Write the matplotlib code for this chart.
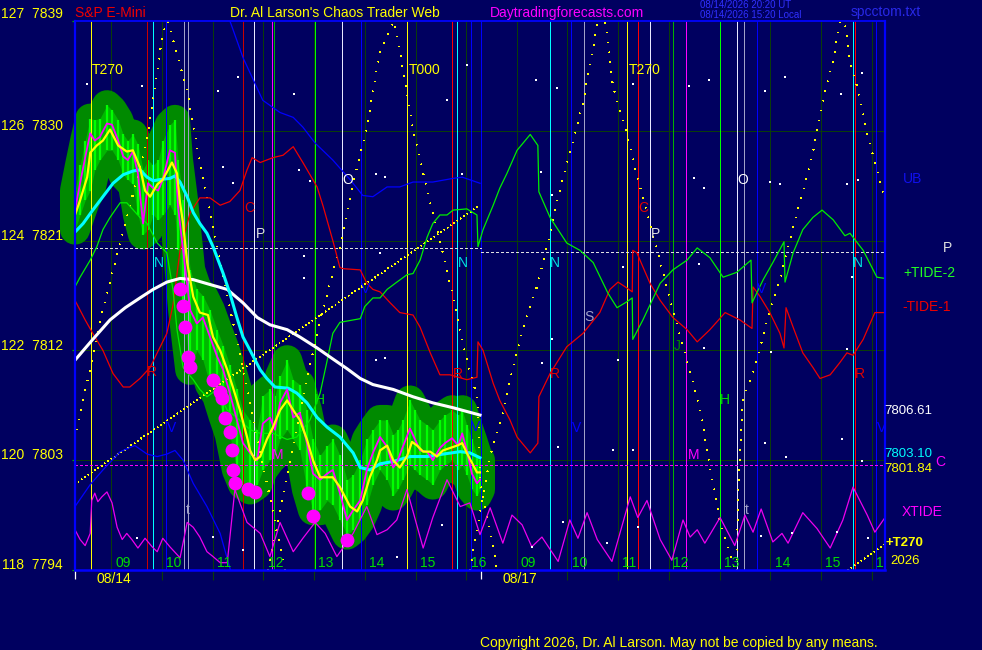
import matplotlib
matplotlib.use("Agg")
import matplotlib.pyplot as plt
import matplotlib.transforms as mtransforms
from matplotlib.patches import Polygon

plt.rcParams['font.family'] = ['Liberation Sans', 'DejaVu Sans']

# ---------------- axis / label data ----------------
y_ticks = [7794, 7803, 7812, 7821, 7830, 7839]
y_tick_labels = ['118  7794', '120  7803', '122  7812', '124  7821', '126  7830', '127  7839']
hour_labels = ['09', '10', '11', '12', '13', '14', '15', '16']
day_labels = ['08/14', '08/17']
day_start_t = [0.0, 7.99]
first_hour_t = 0.713          # 09:00 measured from session start, hours
session_len = 15.96

# ---------------- price bars (day 1) ----------------
price_t = [0.00,0.10,0.20,0.30,0.39,0.49,0.63,0.73,0.85,0.95,
           1.04,1.14,1.24,1.34,1.44,1.54,1.64,1.73,1.87,1.97,
           2.03,2.13,2.27,2.40,2.52,2.66,2.80,2.92,3.05,3.19,
           3.31,3.45,3.59,3.70,3.84,3.94,4.04,4.18,4.30,4.43,
           4.57,4.69,4.83,4.97,5.08,5.22,5.36,5.48,5.62,5.75,
           5.87,6.01,6.15,6.27,6.36,6.46,6.60,6.70,6.80,6.94,
           7.05,7.19,7.29,7.43,7.55,7.63,7.72,7.82,7.92,7.98]
close = [7823.5,7825.7,7827.8,7829.8,7829.2,7829.5,7830.6,7830.5,7829.2,7827.9,
         7827.6,7828.3,7826.5,7822.4,7825.7,7825.3,7825.1,7826.0,7828.4,7828.2,
         7823.8,7820.2,7815.3,7814.2,7814.7,7813.1,7811.5,7810.4,7808.5,7806.3,
         7804.4,7803.6,7803.0,7806.0,7806.5,7805.5,7807.7,7808.8,7806.5,7806.9,
         7804.4,7801.9,7801.4,7801.9,7802.2,7800.3,7798.1,7798.9,7799.7,7802.2,
         7803.6,7804.9,7804.1,7802.4,7803.0,7804.1,7805.6,7804.7,7803.8,7803.7,
         7803.0,7804.0,7804.4,7804.8,7804.2,7805.2,7803.8,7801.9,7801.1,7801.4]
high = [7825.1,7827.2,7829.2,7831.0,7830.9,7831.0,7832.1,7831.7,7830.9,7829.7,
        7829.2,7829.7,7828.9,7826.8,7827.6,7827.2,7827.6,7829.2,7830.5,7830.9,
        7827.6,7824.3,7818.6,7817.0,7816.5,7815.3,7813.7,7812.4,7810.8,7808.8,
        7807.1,7806.3,7805.5,7808.3,7808.8,7808.3,7809.9,7811.2,7809.6,7809.2,
        7807.1,7804.7,7803.4,7804.2,7804.7,7803.4,7801.4,7801.8,7803.0,7804.7,
        7805.5,7806.3,7806.3,7805.1,7805.5,7806.3,7807.9,7807.1,7806.3,7805.9,
        7805.5,7806.3,7806.7,7807.1,7806.7,7807.1,7805.9,7804.7,7803.4,7803.0]
low = [7821.9,7823.1,7824.3,7825.1,7826.8,7827.6,7828.4,7828.4,7827.6,7826.4,
       7826.0,7825.6,7823.1,7821.5,7821.9,7823.1,7822.7,7823.1,7823.9,7823.1,
       7820.2,7815.3,7810.4,7812.0,7811.2,7809.2,7808.3,7806.7,7805.1,7802.2,
       7801.0,7800.6,7801.0,7802.2,7803.0,7803.4,7804.7,7805.5,7804.7,7803.8,
       7800.6,7798.9,7798.9,7799.7,7799.3,7798.1,7796.9,7797.3,7798.1,7799.3,
       7801.0,7802.2,7801.4,7800.1,7800.6,7801.4,7802.6,7802.2,7801.8,7801.4,
       7801.0,7802.2,7802.6,7803.0,7802.2,7802.6,7801.8,7800.6,7800.1,7800.6]

dots_t = [2.07,2.13,2.17,2.23,2.27,2.72,2.86,2.90,2.96,3.05,3.09,3.11,3.15,3.41,3.55,4.59,4.69,5.36]
dots_p = [7817.0,7815.6,7813.9,7811.5,7810.6,7809.6,7808.6,7808.1,7806.5,7805.3,
          7803.8,7802.2,7801.1,7800.6,7800.4,7800.3,7798.4,7796.5]

# ---------------- moving averages ----------------
yel_t = [0.00,0.10,0.24,0.30,0.43,0.55,0.69,0.85,1.02,1.14,
         1.28,1.38,1.48,1.62,1.73,1.91,2.01,2.07,2.13,2.21,
         2.33,2.46,2.62,2.72,2.86,3.00,3.11,3.25,3.39,3.45,
         3.55,3.65,3.78,3.90,4.04,4.18,4.30,4.43,4.57,4.69,
         4.83,5.08,5.22,5.42,5.56,5.67,5.81,5.95,6.01,6.15,
         6.27,6.40,6.54,6.64,6.74,6.86,7.00,7.13,7.25,7.39,
         7.53,7.63,7.72,7.82,7.92,7.98]
yel = [7823.1,7824.3,7826.2,7828.2,7828.8,7829.2,7830.1,7828.8,7828.3,7828.4,
       7827.0,7825.1,7824.6,7825.6,7826.0,7827.4,7826.5,7824.1,7822.4,7819.2,
       7816.4,7815.1,7814.9,7813.1,7812.0,7810.4,7809.0,7807.1,7804.9,7803.8,
       7803.0,7803.3,7804.7,7805.7,7807.1,7807.9,7807.1,7806.3,7804.7,7803.0,
       7801.6,7801.6,7800.8,7799.2,7798.8,7799.7,7801.6,7803.0,7803.8,7804.2,
       7803.0,7802.4,7803.3,7804.5,7804.2,7803.7,7803.7,7803.3,7803.8,7804.0,
       7804.2,7804.4,7803.6,7802.8,7802.0,7802.0]

cyan_t = [0.00,0.16,0.35,0.55,0.75,0.95,1.14,1.28,1.42,1.54,
          1.67,1.87,1.97,2.07,2.21,2.33,2.46,2.60,2.72,2.92,
          3.05,3.19,3.31,3.45,3.65,3.78,3.94,4.20,4.37,4.57,
          4.77,4.97,5.22,5.48,5.62,5.81,6.01,6.27,6.60,6.94,
          7.25,7.59,7.78,7.98]
cyan = [7821.7,7822.4,7823.5,7824.6,7825.7,7826.4,7826.7,7826.8,7826.2,7825.9,
        7826.0,7826.1,7826.3,7825.8,7824.6,7823.3,7822.4,7821.6,7820.5,7818.3,
        7816.7,7814.7,7813.1,7812.0,7810.4,7809.7,7809.0,7808.9,7808.5,7807.7,
        7806.5,7805.7,7804.9,7803.6,7802.4,7802.2,7802.7,7802.9,7803.3,7803.3,
        7803.5,7803.7,7803.6,7803.2]

white_t = [0.00,0.35,0.69,0.99,1.28,1.54,1.81,2.07,2.33,2.66,3.00,3.31,3.59,
           3.84,4.18,4.43,4.77,5.08,5.36,5.62,5.87,6.27,6.66,7.05,7.45,7.98]
white = [7811.2,7812.9,7814.5,7815.5,7816.3,7817.0,7817.6,7817.9,7817.8,7817.4,7817.0,7815.9,7814.7,
         7814.1,7813.7,7813.1,7812.2,7811.3,7810.5,7809.7,7809.2,7808.8,7808.2,7807.7,7807.3,7806.7]

# ---------------- UB (blue), wraps from bottom to top ----------------
blueA_t = [0.00,0.30,0.55,0.89,1.18,1.42,1.62,1.81,1.97,2.13,2.33,2.60,2.86,3.05,3.09]
blueA = [7799.2,7801.0,7802.2,7803.7,7804.2,7803.5,7803.3,7803.5,7803.8,7803.0,7801.1,7799.2,7797.0,7794.2,7793.6]
blueB_t = [3.01,3.31,3.70,4.04,4.30,4.49,4.73,5.08,5.42,5.67,5.87,6.15,6.40,6.66,7.05,7.45,7.63,7.98]
blueB = [7839.5,7836.0,7832.5,7831.5,7831.1,7830.3,7829.0,7827.6,7826.0,7824.7,7824.6,7825.4,7825.4,
         7825.8,7825.8,7826.1,7826.2,7825.7]

# ---------------- TIDE-1 (red) ----------------
red_t = [0.00,0.20,0.35,0.55,0.75,0.95,1.08,1.28,1.48,1.62,
         1.81,1.93,2.07,2.27,2.46,2.66,2.86,3.05,3.25,3.39,
         3.49,3.65,3.90,4.10,4.30,4.49,4.77,4.89,5.08,5.22,
         5.28,5.62,5.75,5.87,6.01,6.21,6.40,6.66,6.80,7.00,
         7.19,7.39,7.72,7.92,7.94,8.04,8.24,8.37,8.57,8.71,
         8.97,9.12,9.14,9.36,9.69,10.01,10.34,10.54,10.70,10.88,
         10.98,10.99,11.07,11.33,11.53,11.78,12.06,12.26,12.51,12.81,
         13.10,13.34,13.36,13.50,13.69,13.89,13.97,14.01,14.15,14.34,
         14.54,14.68,14.88,15.07,15.21,15.33,15.53,15.76,15.96]
red = [7816.1,7814.5,7813.4,7812.0,7810.1,7809.0,7809.0,7809.7,7810.6,7811.8,
       7813.4,7815.7,7820.2,7823.3,7824.5,7824.5,7823.9,7824.2,7825.1,7826.8,
       7827.8,7827.4,7827.8,7828.0,7828.7,7827.4,7825.4,7823.8,7821.0,7818.8,
       7818.7,7818.6,7817.5,7817.0,7816.8,7815.9,7815.1,7814.9,7813.9,7811.8,
       7810.0,7810.0,7809.6,7809.8,7812.7,7812.0,7809.3,7807.9,7806.3,7804.9,
       7803.6,7804.4,7808.2,7810.1,7812.3,7813.4,7815.1,7817.0,7817.6,7817.1,
       7816.8,7820.2,7820.0,7817.5,7816.1,7814.7,7813.7,7812.7,7813.7,7815.1,
       7814.5,7813.8,7817.2,7816.4,7815.1,7813.4,7812.2,7815.5,7813.9,7811.8,
       7810.6,7809.7,7810.0,7811.0,7811.8,7811.6,7812.9,7815.1,7815.1]

# ---------------- TIDE-2 (green) ----------------
grn_t = [0.00,0.10,0.30,0.43,0.55,0.69,0.89,1.02,1.28,1.42,
         1.62,1.81,1.93,2.01,2.13,2.33,2.46,2.60,2.80,3.00,
         3.19,3.45,3.65,3.90,4.18,4.37,4.63,4.83,4.97,5.08,
         5.22,5.62,5.71,5.87,6.01,6.15,6.31,6.54,6.66,6.80,
         6.94,7.05,7.19,7.33,7.45,7.72,7.92,7.94,8.04,8.24,
         8.37,8.51,8.71,8.97,9.12,9.14,9.36,9.69,9.95,10.21,
         10.50,10.68,10.88,10.98,10.99,11.19,11.53,11.78,12.06,12.26,
         12.51,12.77,13.04,13.32,13.34,13.56,13.75,13.97,13.99,14.15,
         14.34,14.54,14.72,14.94,15.17,15.27,15.53,15.80,15.96]
grn = [7817.2,7818.0,7819.4,7820.5,7821.9,7822.9,7824.1,7824.1,7822.9,7822.4,
       7820.8,7820.0,7817.0,7813.7,7810.6,7809.6,7808.8,7808.2,7808.8,7807.1,
       7806.5,7805.5,7805.2,7805.2,7804.7,7804.9,7806.3,7808.5,7811.2,7813.4,
       7814.3,7814.6,7815.6,7816.3,7816.3,7817.0,7817.5,7818.2,7818.3,7819.4,
       7821.3,7822.4,7823.1,7823.1,7823.5,7823.6,7823.1,7820.5,7821.9,7823.9,
       7825.3,7826.5,7828.4,7829.7,7828.8,7825.0,7822.9,7820.8,7820.2,7819.2,
       7816.7,7815.5,7816.0,7816.3,7812.9,7814.5,7817.5,7818.6,7819.4,7820.4,
       7819.6,7818.0,7818.4,7819.4,7815.9,7817.8,7819.2,7820.9,7817.6,7820.0,
       7821.9,7822.9,7823.5,7822.7,7821.4,7821.6,7820.2,7818.0,7817.9]

# ---------------- XTIDE (magenta) ----------------
xt_t = [0.00,0.10,0.20,0.30,0.33,0.39,0.45,0.53,0.63,0.73,
        0.83,0.93,1.02,1.12,1.24,1.38,1.52,1.62,1.73,1.87,
        2.07,2.21,2.33,2.46,2.60,2.72,2.86,3.00,3.15,3.39,
        3.65,3.84,4.04,4.30,4.49,4.73,4.93,5.16,5.48,5.75,
        5.95,6.15,6.34,6.54,6.86,7.05,7.33,7.59,7.78,7.98,
        8.18,8.43,8.61,8.81,9.00,9.20,9.52,9.75,9.91,10.09,
        10.29,10.58,10.94,11.09,11.27,11.53,11.76,11.98,12.12,12.26,
        12.41,12.71,13.00,13.20,13.36,13.52,13.75,13.93,14.05,14.34,
        14.62,14.88,15.13,15.33,15.61,15.76,15.96]
xt = [7797.3,7796.5,7796.0,7797.0,7799.7,7800.3,7799.6,7800.0,7800.4,7799.5,
      7797.5,7796.5,7797.0,7796.5,7795.8,7796.6,7795.9,7795.5,7796.6,7795.9,
      7795.0,7797.9,7797.5,7796.7,7795.5,7795.1,7794.6,7794.6,7800.6,7797.9,
      7797.0,7795.1,7797.9,7795.5,7796.6,7797.9,7797.0,7795.1,7797.0,7799.2,
      7796.9,7797.3,7798.1,7800.6,7795.8,7798.3,7801.4,7799.2,7799.5,7796.9,
      7799.1,7796.2,7798.5,7797.7,7795.9,7796.7,7794.7,7798.1,7796.6,7798.7,
      7796.5,7794.7,7800.0,7798.3,7799.7,7796.5,7794.8,7798.1,7796.7,7797.3,
      7796.2,7798.3,7796.0,7798.5,7797.1,7799.0,7796.3,7797.0,7796.2,7798.7,
      7797.4,7795.8,7798.1,7800.8,7798.5,7797.1,7798.3]

# ---------------- T270 cycle forecast (yellow dotted) ----------------
cycA_t = [0.00,0.53,1.42,1.73,1.83,2.21,2.46,2.80,4.14]
cycA = [7804.7,7815.1,7829.2,7838.0,7839.0,7833.3,7827.4,7820.5,7794.0]
cycB_t = [3.80,4.57,4.83,5.22,5.48,5.75,6.01,6.29,6.40,6.66,7.00,7.33,7.72,7.94,7.98,8.12,8.32]
cycB = [7794.0,7809.6,7814.5,7820.5,7825.7,7830.3,7836.6,7839.0,7836.6,7830.1,7824.1,7818.6,
        7811.2,7807.9,7801.4,7798.3,7794.0]
cycC_t = [7.78,8.18,8.43,8.63,8.83,9.10,9.30,9.52,9.75,10.01,10.29,10.42,10.48,10.60,10.80,
          11.07,11.27,11.47,11.67,11.98,12.18,12.35,12.51,12.71,13.00]
cycC = [7794.0,7803.3,7806.9,7810.6,7813.9,7817.2,7820.5,7824.6,7828.2,7832.3,7838.7,7839.0,7838.5,
        7833.6,7830.9,7826.4,7823.3,7820.2,7817.0,7812.3,7809.3,7806.5,7802.4,7797.9,7794.2]
cycD_t = [13.04,13.06,13.16,13.44,13.64,13.89,14.15,14.34,14.54,14.74,14.94,15.07,15.17,15.27,
          15.41,15.61,15.82,15.96]
cycD = [7794.0,7799.7,7807.9,7811.2,7814.5,7817.8,7822.1,7825.0,7828.2,7832.5,7835.8,7839.0,7838.8,
        7835.6,7833.6,7829.8,7826.5,7824.3]
diag1_t = [0.00, 7.98]
diag1 = [7801.05, 7823.9]
diag2_t = [15.23, 15.96]
diag2 = [7794.0, 7796.1]

# horizontal reference levels
level_P_day1 = 7820.4
level_P_day2 = 7820.1
level_C = 7802.6

# ---------------- vertical event lines ----------------
YEL, DRED, RED, CYAN, BLUE = '#ffff00', '#c80000', '#ff0000', '#00ffff', '#0000ff'
GRAY, WHT, MAG, GRN, LIME = '#a0a0c8', '#e8e8ff', '#ff00ff', '#00b000', '#00ff00'
vline_t = [0.32, 1.42, 1.54, 1.80, 2.15, 2.23, 3.32, 3.53, 3.88, 3.92,
           4.72, 5.27, 5.63, 6.55, 7.43, 7.53, 7.81, 7.99, 9.35, 9.78,
           10.02, 10.88, 11.10, 11.32, 11.79, 12.03, 12.70, 13.05, 13.19, 13.43,
           15.32, 15.36, 15.79]
vline_c = [YEL, DRED, CYAN, BLUE, GRAY, GRAY, DRED, WHT, MAG, GRN,
           LIME, WHT, BLUE, YEL, RED, CYAN, BLUE, BLUE, CYAN, BLUE,
           GRAY, YEL, RED, WHT, GRN, MAG, LIME, WHT, GRAY, BLUE,
           CYAN, RED, BLUE]

# ---------------- letters in plot ----------------
letters = [('N', 1.66, 7819.2, '#00e0e0'), ('N', 7.65, 7819.2, '#00e0e0'),
           ('N', 9.46, 7819.2, '#00e0e0'), ('N', 15.43, 7819.2, '#00e0e0'),
           ('O', 5.38, 7826.0, '#ffffff'), ('O', 13.16, 7826.0, '#ffffff'),
           ('C', 3.43, 7823.7, '#e00000'), ('C', 11.19, 7823.7, '#e00000'),
           ('P', 3.65, 7821.5, '#e0e0e0'), ('P', 11.43, 7821.5, '#e0e0e0'),
           ('S', 10.13, 7814.7, '#a0a0c8'), ('J', 11.86, 7812.4, '#008800'),
           ('H', 4.83, 7807.9, '#00dd00'), ('H', 12.81, 7807.9, '#00dd00'),
           ('R', 1.52, 7810.2, '#e00000'), ('R', 7.55, 7810.1, '#e00000'),
           ('R', 9.46, 7810.1, '#e00000'), ('R', 15.47, 7810.1, '#e00000'),
           ('V', 1.91, 7805.6, '#0000ff'), ('V', 5.73, 7817.0, '#0000ff'),
           ('V', 13.52, 7817.0, '#0000ff'), ('V', 9.89, 7805.6, '#0000ff'),
           ('V', 15.90, 7805.6, '#0000ff'), ('V', 7.90, 7805.7, '#0000ff'),
           ('M', 4.00, 7803.4, '#ff00ff'), ('M', 12.18, 7803.4, '#ff00ff'),
           ('t', 13.24, 7798.9, '#a0a0c8'), ('t', 2.23, 7798.9, '#a0a0c8')]
cycle_labels = [('T270', 0.33), ('T000', 6.58), ('T270', 10.92)]
cycle_label_level = 7835.0

# scattered white markers
wdot_t = [0.24,1.32,2.82,3.21,4.32,7.33,7.72,2.92,3.11,4.41,4.63,5.93,6.11,7.63,4.51,6.01,4.51,5.93,6.11,
          9.08,9.50,9.18,9.40,9.40,9.20,10.99,12.10,12.49,12.20,12.39,10.70,10.80,12.30,12.39,13.60,13.99,
          13.69,13.89,13.71,15.09,15.51,15.21,15.43,15.21,15.31,9.62,9.00,9.52,10.60,10.99,10.48,11.09,
          13.52,13.60,14.01,15.11,15.51,15.63,14.13,15.01,1.22,2.72,3.31,6.34,7.23]
wdot_p = [7833.8,7833.7,7833.3,7834.4,7833.0,7832.5,7835.4,7827.0,7825.7,7826.8,7825.9,7826.5,7826.2,7826.5,
          7819.7,7820.0,7817.9,7811.2,7811.4,7834.2,7833.5,7826.6,7824.7,7812.9,7811.0,7833.8,7833.7,7834.2,
          7826.1,7825.3,7811.2,7818.8,7819.1,7812.2,7833.3,7834.4,7825.8,7825.6,7811.9,7833.0,7834.7,7825.6,
          7826.0,7812.1,7818.0,7797.9,7795.9,7804.1,7803.8,7803.8,7796.2,7797.5,7796.8,7804.4,7803.3,7804.7,
          7802.9,7796.6,7797.0,7797.1,7796.6,7796.7,7795.6,7795.1,7797.7]

# ---------------- drawing ----------------
BG = '#000060'
GRID = '#0a3c0a'
W, H = 982, 650
THIN = 0.5   # about one device pixel, drawn without antialiasing

fig = plt.figure(figsize=(W / 100, H / 100), dpi=100, facecolor=BG)
ax = fig.add_axes([75 / W, 80 / H, 810 / W, 549 / H])
ax.set_facecolor(BG)
ax.set_xlim(0, session_len)
ax.set_ylim(y_ticks[0], y_ticks[-1])

hour_t = [d + first_hour_t + i for d in day_start_t for i in range(len(hour_labels))]
ax.set_xticks(hour_t)
ax.set_xticklabels([])
ax.set_xticks(day_start_t, minor=True)
ax.tick_params(axis='x', which='major', direction='out', length=7.2, width=0.8, color=GRID)
ax.tick_params(axis='x', which='minor', direction='out', length=6.5, width=0.9, color='#ffffff')
ax.set_yticks(y_ticks)
ax.set_yticklabels([])
ax.tick_params(axis='y', direction='out', length=2.5, width=0.9, color='#00b000')
ax.grid(True, color=GRID, lw=THIN, antialiased=False)
ax.set_axisbelow(True)

for side, lw in (('left', 1.6), ('bottom', 1.8), ('top', 1.3), ('right', 1.6)):
    ax.spines[side].set_color('#0000ff')
    ax.spines[side].set_linewidth(lw)
    ax.spines[side].set_zorder(20)

# glow around the bars
verts = list(zip(price_t, high)) + list(zip(price_t[::-1], low[::-1]))
ax.add_patch(Polygon(verts, closed=True, fc='#008a00', ec='#008a00', lw=21.6,
                     joinstyle='round', clip_on=False, zorder=2))
ax.fill_between(price_t, low, high, color='#00b800', lw=0, zorder=3)
ax.vlines(price_t, low, high, colors='#00ff00', lw=1.6, zorder=3.1)

# vertical event lines
for t, c in zip(vline_t, vline_c):
    ax.axvline(t, color=c, lw=THIN, antialiased=False, zorder=4)

# reference dotted levels
ax.plot([0, day_start_t[1]], [level_P_day1, level_P_day1], color='#e0e0e0', lw=THIN,
        ls=(0, (3, 3)), antialiased=False, zorder=4.5)
ax.plot([day_start_t[1], session_len], [level_P_day2, level_P_day2], color='#e0e0e0', lw=THIN,
        ls=(0, (3, 3)), antialiased=False, zorder=4.5)
ax.axhline(level_C, color='#ff00ff', lw=THIN, ls=(0, (3, 3)), antialiased=False, zorder=4.5)

# cycle forecast dots
for ct, cv in ((cycA_t, cycA), (cycB_t, cycB), (cycC_t, cycC), (cycD_t, cycD)):
    ax.plot(ct, cv, color='#ffff00', lw=THIN, ls=(0, (1, 14)), antialiased=False, zorder=4.6)
ax.plot(diag1_t, diag1, color='#ffff00', lw=THIN, ls=(0, (1, 5)), antialiased=False, zorder=4.6)
ax.plot(diag2_t, diag2, color='#ffff00', lw=THIN, ls=(0, (1, 5)), antialiased=False, zorder=4.6)

# tides
ax.plot(blueA_t, blueA, color='#0000ff', lw=0.9, zorder=5)
ax.plot(blueB_t, blueB, color='#0000ff', lw=0.9, zorder=5)
ax.plot(red_t, red, color='#ee0000', lw=0.9, zorder=5)
ax.plot(grn_t, grn, color='#00ee00', lw=0.9, zorder=5)
ax.plot(xt_t, xt, color='#ee00ee', lw=0.9, zorder=5)

# moving averages / price
ax.plot(white_t, white, color='#ffffff', lw=2.2, zorder=6)
ax.plot(cyan_t, cyan, color='#00ffff', lw=2.2, zorder=6)
ax.plot(dots_t, dots_p, 'o', ms=10, color='#ff00ff', mec='none', zorder=6.5)
ax.plot(price_t, close, color='#ff00ff', lw=1.3, zorder=7)
ax.plot(yel_t, yel, color='#ffff00', lw=1.6, zorder=7.1)

ax.scatter(wdot_t, wdot_p, s=1.3, c='#ffffff', marker='s', lw=0, zorder=8)

for txt, t, p, c in letters:
    ax.text(t, p, txt, color=c, fontsize=10, ha='center', va='center', zorder=9)
for txt, t in cycle_labels:
    ax.text(t, cycle_label_level, txt, color='#ffff00', fontsize=10, ha='left', va='center', zorder=9)

# hour and date labels (clipped to the plot, as the last one is cut by the frame)
for d in day_start_t:
    for i, lab in enumerate(hour_labels):
        ax.text(d + first_hour_t + i + 0.08, 7794.55, lab, color='#00dd00', fontsize=10,
                ha='left', va='center', clip_on=True, zorder=9)
for d, lab in zip(day_start_t, day_labels):
    ax.text(d + 0.43, 7793.3, lab, color='#ffff00', fontsize=10, ha='left', va='center',
            clip_on=False, zorder=9)

# left axis labels
trans = mtransforms.blended_transform_factory(ax.transAxes, ax.transData)
for v, lab in zip(y_ticks, y_tick_labels):
    off = 0.55 if v == y_ticks[-1] else 0.4
    ax.text(-0.0148, v + off, lab, transform=trans, color='#ffff00', fontsize=10,
            ha='right', va='center', clip_on=False)


def ftext(px, py, s, color, size=10, **kw):
    fig.text(px / W, 1 - py / H, s, color=color, fontsize=size, ha='left', va='center', **kw)


ftext(75, 13, 'S&P E-Mini', '#ee0000')
ftext(230, 13, "Dr. Al Larson's Chaos Trader Web", '#ffff00')
ftext(490, 13, 'Daytradingforecasts.com', '#ff00ff')
ftext(700, 5, '08/14/2026 20:20 UT', '#3030ff', size=7)
ftext(700, 15, '08/14/2026 15:20 Local', '#3030ff', size=7)
ftext(851, 12, 'spcctom.txt', '#2828e8')
ftext(480, 643, 'Copyright 2026, Dr. Al Larson. May not be copied by any means.', '#ffff00')

ftext(903, 179, 'UB', '#1010ee')
ftext(943, 248, 'P', '#e0e0e0')
ftext(903, 273, '+TIDE-2', '#22ff22')
ftext(902, 307, '-TIDE-1', '#ee0000')
ftext(884, 411, '7806.61', '#ffffff', size=9.5)
ftext(884, 454, '7803.10', '#00ffff', size=9.5)
ftext(935, 462, 'C', '#ff00ff')
ftext(884, 469, '7801.84', '#ffff00', size=9.5)
ftext(902, 512, 'XTIDE', '#ff00ff')
ftext(886, 543, '+T270', '#ffff00', size=9.5, fontweight='bold')
ftext(890, 561, '2026', '#ffff00', size=9.5)

fig.savefig('out.png', dpi=100, facecolor=BG)
